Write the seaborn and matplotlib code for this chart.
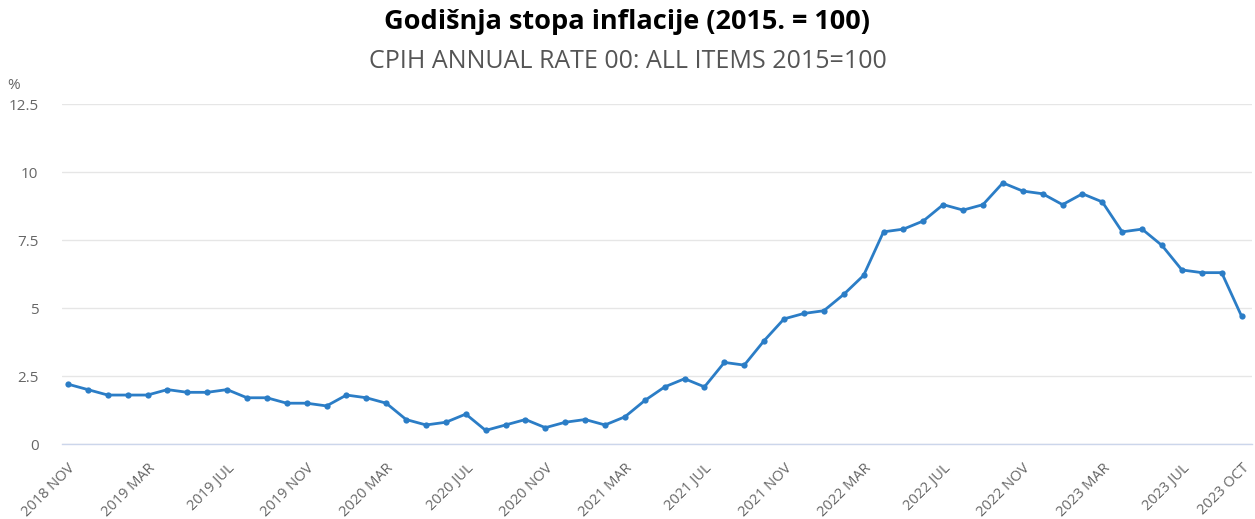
import matplotlib
matplotlib.use("Agg")
import matplotlib.pyplot as plt
import seaborn as sns
import pandas as pd

# monthly CPIH annual rate, 2018 NOV .. 2023 OCT
months = ["2018 NOV", "2018 DEC",
          "2019 JAN", "2019 FEB", "2019 MAR", "2019 APR", "2019 MAY", "2019 JUN",
          "2019 JUL", "2019 AUG", "2019 SEP", "2019 OCT", "2019 NOV", "2019 DEC",
          "2020 JAN", "2020 FEB", "2020 MAR", "2020 APR", "2020 MAY", "2020 JUN",
          "2020 JUL", "2020 AUG", "2020 SEP", "2020 OCT", "2020 NOV", "2020 DEC",
          "2021 JAN", "2021 FEB", "2021 MAR", "2021 APR", "2021 MAY", "2021 JUN",
          "2021 JUL", "2021 AUG", "2021 SEP", "2021 OCT", "2021 NOV", "2021 DEC",
          "2022 JAN", "2022 FEB", "2022 MAR", "2022 APR", "2022 MAY", "2022 JUN",
          "2022 JUL", "2022 AUG", "2022 SEP", "2022 OCT", "2022 NOV", "2022 DEC",
          "2023 JAN", "2023 FEB", "2023 MAR", "2023 APR", "2023 MAY", "2023 JUN",
          "2023 JUL", "2023 AUG", "2023 SEP", "2023 OCT"]
rate = [2.2, 2.0,
        1.8, 1.8, 1.8, 2.0, 1.9, 1.9, 2.0, 1.7, 1.7, 1.5, 1.5, 1.4,
        1.8, 1.7, 1.5, 0.9, 0.7, 0.8, 1.1, 0.5, 0.7, 0.9, 0.6, 0.8,
        0.9, 0.7, 1.0, 1.6, 2.1, 2.4, 2.1, 3.0, 2.9, 3.8, 4.6, 4.8,
        4.9, 5.5, 6.2, 7.8, 7.9, 8.2, 8.8, 8.6, 8.8, 9.6, 9.3, 9.2,
        8.8, 9.2, 8.9, 7.8, 7.9, 7.3, 6.4, 6.3, 6.3, 4.7]
tick_labels = ["2018 NOV", "2019 MAR", "2019 JUL", "2019 NOV", "2020 MAR",
               "2020 JUL", "2020 NOV", "2021 MAR", "2021 JUL", "2021 NOV",
               "2022 MAR", "2022 JUL", "2022 NOV", "2023 MAR", "2023 JUL",
               "2023 OCT"]
y_ticks = [0, 2.5, 5, 7.5, 10, 12.5]

df = pd.DataFrame({"month": months, "rate": rate})
df["idx"] = range(len(df))

sns.set_style("white")
plt.rcParams["font.family"] = ["Open Sans", "DejaVu Sans"]

fig = plt.figure(figsize=(12.55, 5.19), dpi=100)
ax = fig.add_axes([0.0494, 0.1445, 0.9486, 0.6551])

line_col = "#2b7dc6"
sns.lineplot(data=df, x="idx", y="rate", ax=ax, color=line_col, linewidth=2.0,
             marker="o", markersize=4.5, markeredgewidth=0)

ax.set_ylim(0, 12.5)
ax.set_xlim(-0.30, 59.55)
ax.set_yticks(y_ticks)
ax.set_yticklabels(["0", "2.5", "5", "7.5", "10", "12.5"])
ax.grid(axis="y", color="#e6e6e6", linewidth=1.0)
ax.grid(axis="x", visible=False)

pos = [months.index(t) for t in tick_labels]
ax.set_xticks(pos)
ax.set_xticklabels(tick_labels, rotation=45, ha="right", rotation_mode="anchor")

for s in ["top", "right", "left"]:
    ax.spines[s].set_visible(False)
ax.spines["bottom"].set_color("#ccd6eb")
ax.spines["bottom"].set_linewidth(1.0)

ax.tick_params(axis="x", colors="#666666", labelsize=10.5, length=9, width=1,
               color="#ccd6eb", pad=3)
ax.tick_params(axis="y", colors="#666666", labelsize=11, length=0, pad=17)
ax.set_xlabel("")
ax.set_ylabel("")

fig.text(0.5, 0.958, "Godišnja stopa inflacije (2015. = 100)", ha="center",
         va="center", fontsize=19.5, fontweight="bold", color="black")
fig.text(0.5, 0.882, "CPIH ANNUAL RATE 00: ALL ITEMS 2015=100", ha="center",
         va="center", fontsize=18, color="#555555")
fig.text(0.006, 0.836, "%", ha="left", va="center", fontsize=11, color="#666666")

fig.savefig("out.png", dpi=100)
